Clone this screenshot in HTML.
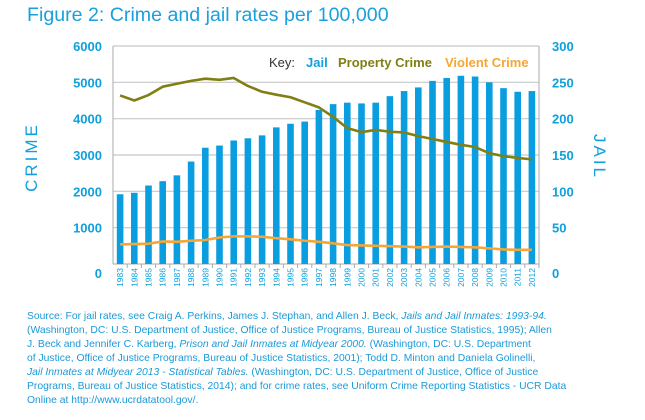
<!DOCTYPE html>
<html><head><meta charset="utf-8"><style>
body{margin:0;width:645px;height:420px;background:#fff;font-family:"Liberation Sans",sans-serif;overflow:hidden;position:relative}
#title{position:absolute;left:27px;top:4px;font-size:19.6px;color:#1aa0dc;white-space:nowrap}
#source{position:absolute;left:27px;top:310px;font-size:10.35px;line-height:14px;color:#1a9ad8;white-space:nowrap}
svg{position:absolute;left:0;top:0}
</style></head><body>
<div id="title">Figure 2: Crime and jail rates per 100,000</div>
<svg id="chart" width="645" height="420"></svg>
<div id="source">Source: For jail rates, see Craig A. Perkins, James J. Stephan, and Allen J. Beck, <i>Jails and Jail Inmates: 1993-94.</i><br>(Washington, DC: U.S. Department of Justice, Office of Justice Programs, Bureau of Justice Statistics, 1995); Allen<br>J. Beck and Jennifer C. Karberg, <i>Prison and Jail Inmates at Midyear 2000.</i> (Washington, DC: U.S. Department<br>of Justice, Office of Justice Programs, Bureau of Justice Statistics, 2001); Todd D. Minton and Daniela Golinelli,<br><i>Jail Inmates at Midyear 2013 - Statistical Tables.</i> (Washington, DC: U.S. Department of Justice, Office of Justice<br>Programs, Bureau of Justice Statistics, 2014); and for crime rates, see Uniform Crime Reporting Statistics - UCR Data<br>Online at http://www.ucrdatatool.gov/.</div>
<script>
const years=[1983,1984,1985,1986,1987,1988,1989,1990,1991,1992,1993,1994,1995,1996,1997,1998,1999,2000,2001,2002,2003,2004,2005,2006,2007,2008,2009,2010,2011,2012];
const jail=[96,98,108,114,122,141,160,163,170,173,177,188,193,196,212,220,222,221,222,231,238,243,252,256,259,258,250,242,237,238];
const property=[4640,4500,4650,4880,4960,5040,5100,5070,5120,4900,4740,4660,4590,4450,4310,4050,3740,3630,3690,3640,3620,3520,3440,3360,3280,3220,3050,2970,2920,2880];
const violent=[540,550,560,620,610,640,660,730,760,760,750,710,680,640,610,570,520,510,500,490,480,460,470,480,470,460,430,400,390,390];
const leftTicks=[0,1000,2000,3000,4000,5000,6000];
const rightTicks=[0,50,100,150,200,250,300];

const svg=document.getElementById('chart');
const NS='http://www.w3.org/2000/svg';
const X0=113,X1=539,Y0=264,Y1=46;
const slot=(X1-X0)/years.length;
const xc=i=>X0+slot*(i+0.5);
const yL=v=>Y0-(v/6000)*(Y0-Y1);
const yR=v=>Y0-(v/300)*(Y0-Y1);
function mk(t,a,txt){const e=document.createElementNS(NS,t);for(const k in a)e.setAttribute(k,a[k]);if(txt!==undefined)e.textContent=txt;svg.appendChild(e);return e;}
const blue='#0fa0dd';
leftTicks.forEach((v,i)=>{
  if(v>0){const g=mk('line',{x1:X0,x2:X1,y1:yL(v),y2:yL(v),stroke:'#c8c8c8','stroke-width':1.2});
  
  }
  const t=mk('text',{x:102,y:(v===0?yL(v)+14:yL(v)+5),'text-anchor':'end','font-size':13,'font-weight':'bold',fill:blue},v);
  
  
});
rightTicks.forEach(v=>{
  const t=mk('text',{x:552,y:(v===0?yR(v)+14:yR(v)+5),'font-size':13,'font-weight':'bold',fill:blue},v);
  
  
});
mk('line',{x1:X0,x2:X0,y1:Y1,y2:Y0,stroke:'#aaa'});
mk('line',{x1:X1,x2:X1,y1:Y1,y2:Y0,stroke:'#aaa'});
mk('line',{x1:X0,x2:X1,y1:Y0,y2:Y0,stroke:'#aaa'});
years.forEach((yr,i)=>{
  const b=mk('rect',{x:xc(i)-3.3,y:yR(jail[i]),width:6.6,height:Y0-yR(jail[i]),fill:'#0a9ee0'});
  
  
  mk('line',{x1:X0+slot*(i+1),x2:X0+slot*(i+1),y1:Y0,y2:Y0+4,stroke:'#aaa'});
  const t=mk('text',{transform:`translate(${xc(i)+3},${Y0+4}) rotate(-90)`,'text-anchor':'end','font-size':8.5,fill:blue},yr);
  
  
});
const pp=mk('polyline',{points:property.map((v,i)=>xc(i)+','+yL(v)).join(' '),fill:'none',stroke:'#7f7f14','stroke-width':2.6,'stroke-linejoin':'round'});


const vp=mk('polyline',{points:violent.map((v,i)=>xc(i)+','+yL(v)).join(' '),fill:'none',stroke:'#f7a534','stroke-width':2.6,'stroke-linejoin':'round'});


const k=mk('text',{x:269,y:67,'font-size':13,fill:'#333'},'Key:');


const l1=mk('text',{x:306,y:67,'font-size':13,'font-weight':'bold',fill:blue},'Jail');


const l2=mk('text',{x:338,y:67,'font-size':13,'font-weight':'bold',fill:'#7f7f14'},'Property Crime');


const l3=mk('text',{x:445,y:67,'font-size':13,'font-weight':'bold',fill:'#f7a534'},'Violent Crime');


const ya=mk('text',{transform:'translate(37,157) rotate(-90)','text-anchor':'middle','font-size':17,'letter-spacing':3,fill:blue},'CRIME');


const yb=mk('text',{transform:'translate(594,157) rotate(90)','text-anchor':'middle','font-size':17,'letter-spacing':3,fill:blue},'JAIL');


</script>
</body></html>
